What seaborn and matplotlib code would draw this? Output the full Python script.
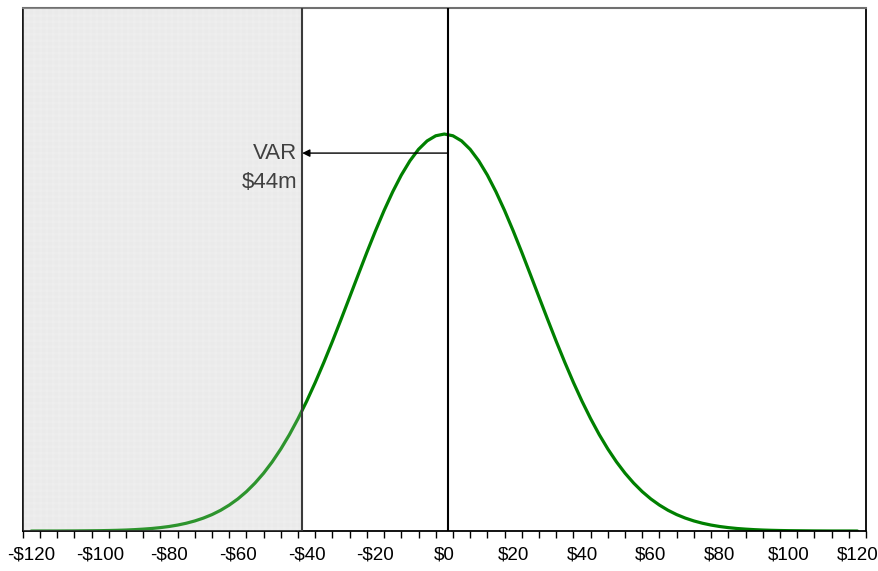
import matplotlib
matplotlib.use("Agg")
import matplotlib.pyplot as plt
import numpy as np
import pandas as pd
import seaborn as sns

# Profit / loss outcomes ($m) and relative frequency of each outcome
pnl = [-120, -117.5, -115, -112.5, -110, -107.5, -105, -102.5,
       -100, -97.5, -95, -92.5, -90, -87.5, -85, -82.5,
       -80, -77.5, -75, -72.5, -70, -67.5, -65, -62.5,
       -60, -57.5, -55, -52.5, -50, -47.5, -45, -42.5,
       -40, -37.5, -35, -32.5, -30, -27.5, -25, -22.5,
       -20, -17.5, -15, -12.5, -10, -7.5, -5, -2.5,
       0,
       2.5, 5, 7.5, 10, 12.5, 15, 17.5, 20,
       22.5, 25, 27.5, 30, 32.5, 35, 37.5, 40,
       42.5, 45, 47.5, 50, 52.5, 55, 57.5, 60,
       62.5, 65, 67.5, 70, 72.5, 75, 77.5, 80,
       82.5, 85, 87.5, 90, 92.5, 95, 97.5, 100,
       102.5, 105, 107.5, 110, 112.5, 115, 117.5, 120]
density = [0.0000, 0.0001, 0.0001, 0.0001, 0.0002, 0.0003, 0.0005, 0.0007,
           0.0009, 0.0013, 0.0018, 0.0025, 0.0035, 0.0048, 0.0064, 0.0086,
           0.0114, 0.0150, 0.0196, 0.0254, 0.0326, 0.0414, 0.0522, 0.0653,
           0.0808, 0.0992, 0.1208, 0.1457, 0.1743, 0.2067, 0.2429, 0.2831,
           0.3269, 0.3743, 0.4249, 0.4780, 0.5332, 0.5895, 0.6461, 0.7021,
           0.7562, 0.8074, 0.8545, 0.8966, 0.9325, 0.9615, 0.9827, 0.9956,
           1.0000,
           0.9956, 0.9827, 0.9615, 0.9325, 0.8966, 0.8545, 0.8074, 0.7562,
           0.7021, 0.6461, 0.5895, 0.5332, 0.4780, 0.4249, 0.3743, 0.3269,
           0.2831, 0.2429, 0.2067, 0.1743, 0.1457, 0.1208, 0.0992, 0.0808,
           0.0653, 0.0522, 0.0414, 0.0326, 0.0254, 0.0196, 0.0150, 0.0114,
           0.0086, 0.0064, 0.0048, 0.0035, 0.0025, 0.0018, 0.0013, 0.0009,
           0.0007, 0.0005, 0.0003, 0.0002, 0.0001, 0.0001, 0.0001, 0.0000]

tick_values = [-120, -100, -80, -60, -40, -20, 0, 20, 40, 60, 80, 100, 120]
tick_labels = ["-$120", "-$100", "-$80", "-$60", "-$40", "-$20", "$0",
               "$20", "$40", "$60", "$80", "$100", "$120"]

mean_line = 1.0        # expected P&L marker
var_cutoff = -41.3     # start of the loss tail
var_amount = 44        # value-at-risk, $m

df = pd.DataFrame({"pnl": pnl, "density": density})

sns.set_style("white")
plt.rcParams["font.family"] = ["Liberation Sans", "DejaVu Sans"]
plt.rcParams["hatch.linewidth"] = 0.3

fig = plt.figure(figsize=(8.79, 5.71), dpi=100)
ax = fig.add_axes([0.0258, 0.070, 0.9594, 0.916])

x_lo, x_hi = -122.5, 122.5
y_hi = 1.3175

# shaded loss tail (base tone + fine grid texture)
ax.axvspan(x_lo, var_cutoff, facecolor="#f6f6f6", edgecolor="none", zorder=0)
ax.axvspan(x_lo, var_cutoff, facecolor="none", edgecolor="#ebebeb",
           hatch="+" * 14, linewidth=0, zorder=0.5)

sns.lineplot(data=df, x="pnl", y="density", ax=ax, color="#008000",
             linewidth=2.3, zorder=2)

# translucent tint of the tail over the curve
ax.axvspan(x_lo, var_cutoff, facecolor="#e6e6e6", edgecolor="none",
           alpha=0.2, zorder=3)

ax.axvline(var_cutoff, color="#3a3a3a", linewidth=1.5, zorder=4)
ax.axvline(mean_line, color="black", linewidth=1.5, zorder=4)

arrow_y = 0.952
ax.annotate("", xy=(var_cutoff, arrow_y), xytext=(mean_line, arrow_y),
            arrowprops=dict(arrowstyle="-|>", color="black", lw=1.0,
                            mutation_scale=11, shrinkA=0, shrinkB=0),
            zorder=5)
ax.text(var_cutoff - 1.4, arrow_y, "VAR", ha="right", va="center",
        fontsize=16, color="#404040", zorder=5)
ax.text(var_cutoff - 1.4, 0.8767, f"${var_amount}m", ha="right", va="center",
        fontsize=16, color="#404040", zorder=5)

ax.set_xlim(x_lo, x_hi)
ax.set_ylim(0, y_hi)
ax.set_xlabel("")
ax.set_ylabel("")
ax.set_yticks([])

# labels centred on the values, tick marks on the 5-unit boundaries
ax.set_xticks(tick_values)
ax.set_xticklabels(tick_labels, fontsize=13.5)
ax.tick_params(axis="x", which="major", length=0, pad=11, colors="black")
ax.set_xticks(np.arange(x_lo, x_hi + 0.1, 5), minor=True)
ax.tick_params(axis="x", which="minor", bottom=True, length=5, width=1,
               color="black", direction="out")

for side in ["left", "bottom", "right"]:
    ax.spines[side].set_color("black")
    ax.spines[side].set_linewidth(1.3)
ax.spines["top"].set_color("#707070")
ax.spines["top"].set_linewidth(1.5)

fig.savefig("out.png", dpi=100)
